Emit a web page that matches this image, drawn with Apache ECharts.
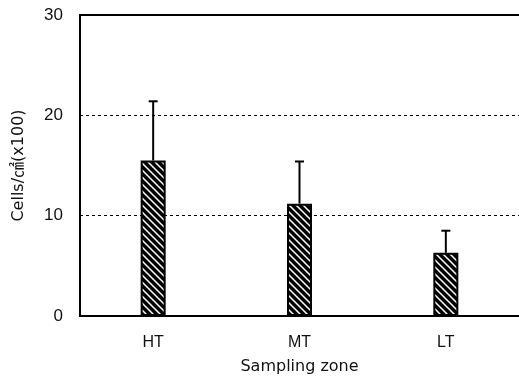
<!DOCTYPE html>
<html>
<head>
<meta charset="utf-8">
<style>
  html, body { margin: 0; padding: 0; background: #fff; }
  #chart { width: 519px; height: 376px; }
</style>
<script src="https://cdn.jsdelivr.net/npm/echarts@6/dist/echarts.min.js"></script>
</head>
<body>
<div id="chart"></div>
<script>
const zones = ['HT', 'MT', 'LT']
const cellMeans = [15.5, 11.2, 6.3]
const errorTops = [21.4, 15.4, 8.5]
const yTicks = [0, 10, 20, 30]

const font = '"Liberation Sans", Arial, "Noto Sans CJK KR", sans-serif'
const wideFont = '"DejaVu Sans", "Noto Sans CJK KR", sans-serif'

// hatch tile: black with white "\" stripes
function hatchTile() {
  const s = 7
  const c = document.createElement('canvas')
  c.width = s
  c.height = s
  const ctx = c.getContext('2d')
  ctx.fillStyle = '#000'
  ctx.fillRect(0, 0, s, s)
  ctx.strokeStyle = '#fff'
  ctx.lineWidth = 1.5
  ctx.beginPath()
  for (let k = -1; k <= 1; k++) {
    ctx.moveTo(k * s - 2, -2)
    ctx.lineTo(k * s + s + 2, s + 2)
  }
  ctx.stroke()
  return c
}

const chart = echarts.init(document.getElementById('chart'))
chart.setOption({
  animation: false,
  grid: { left: 80, right: 0, top: 15, bottom: 60, outerBoundsMode: 'none', containLabel: false },
  xAxis: [{
    type: 'category',
    data: zones,
    name: 'Sampling zone',
    nameLocation: 'middle',
    nameGap: 43,
    nameTextStyle: { fontFamily: wideFont, fontSize: 16, color: '#111' },
    axisLine: { lineStyle: { color: '#000', width: 2 } },
    axisTick: { inside: true, length: 4, lineStyle: { color: '#000' } },
    axisLabel: { fontFamily: font, fontSize: 16, color: '#111', margin: 19 }
  }, {
    type: 'category',
    data: zones,
    position: 'top',
    axisLine: { lineStyle: { color: '#000', width: 2 } },
    axisTick: { show: false },
    axisLabel: { show: false }
  }],
  yAxis: {
    type: 'value',
    min: yTicks[0],
    max: yTicks[yTicks.length - 1],
    interval: 10,
    name: 'Cells/㎠(x100)',
    nameLocation: 'middle',
    nameGap: 53,
    nameTextStyle: { fontFamily: wideFont, fontSize: 16, color: '#111' },
    axisLine: { show: true, lineStyle: { color: '#000', width: 2 } },
    axisTick: { show: false },
    axisLabel: { fontFamily: font, fontSize: 17, color: '#111', margin: 17 },
    splitLine: { show: true, lineStyle: { color: '#000', type: [3, 3], width: 1 } }
  },
  series: [{
    type: 'bar',
    data: cellMeans,
    barWidth: 25,
    itemStyle: {
      color: { image: hatchTile(), repeat: 'repeat' },
      borderColor: '#000',
      borderWidth: 2
    },
    z: 3
  }, {
    type: 'custom',
    data: zones.map((z, i) => [i, cellMeans[i], errorTops[i]]),
    renderItem(params, api) {
      const base = api.coord([api.value(0), api.value(1)])
      const top = api.coord([api.value(0), api.value(2)])
      return {
        type: 'group',
        children: [{
          type: 'line',
          shape: { x1: base[0], y1: base[1], x2: top[0], y2: top[1] },
          style: { stroke: '#000', lineWidth: 2 }
        }, {
          type: 'line',
          shape: { x1: top[0] - 4.5, y1: top[1], x2: top[0] + 4.5, y2: top[1] },
          style: { stroke: '#000', lineWidth: 2 }
        }]
      }
    },
    z: 4
  }]
})
</script>
</body>
</html>
